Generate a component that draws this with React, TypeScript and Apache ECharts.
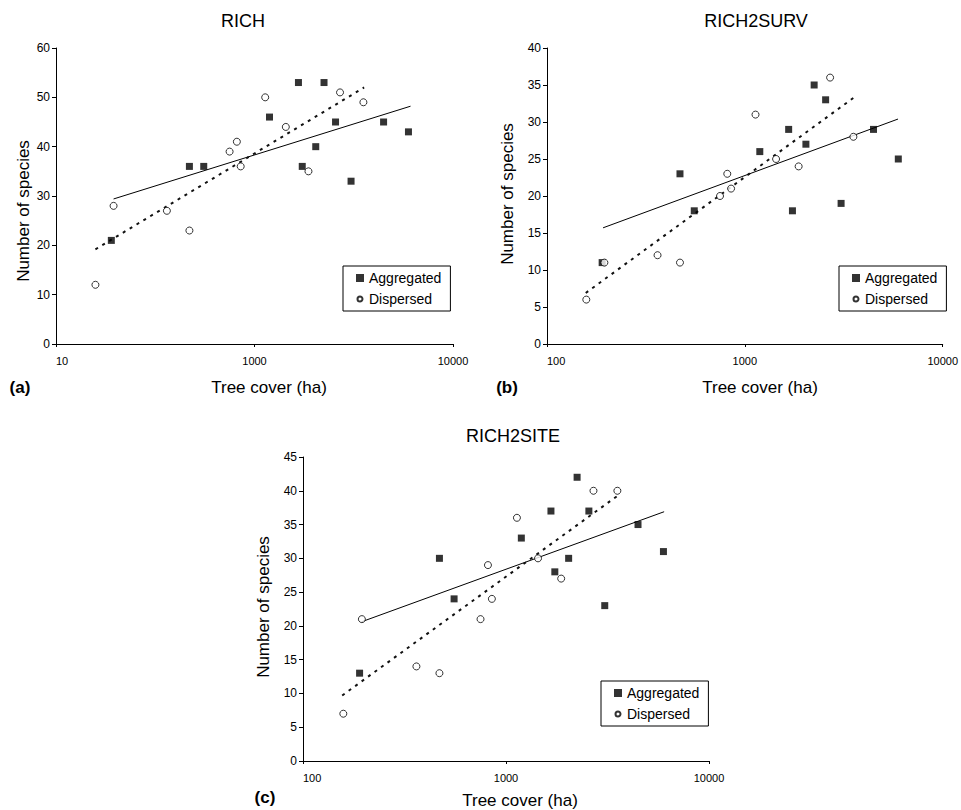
import React, { useEffect, useRef } from "react";
import * as echarts from "echarts";

const FONT = '"Liberation Sans", Arial, Helvetica, sans-serif';

// Tree cover (ha) of the sites, per landscape type
const aggregatedCover = [190, 470, 555, 1190, 1665, 1740, 2035, 2240, 2560, 3065, 4470, 5965];
const dispersedCover = [158, 195, 362, 470, 749, 815, 852, 1132, 1438, 1870, 2697, 3537];

// Number of species
const richAggregated = [21, 36, 36, 46, 53, 36, 40, 53, 45, 33, 45, 43];
const richDispersed = [12, 28, 27, 23, 39, 41, 36, 50, 44, 35, 51, 49];
const survAggregated = [11, 23, 18, 26, 29, 18, 27, 35, 33, 19, 29, 25];
const survDispersed = [6, 11, 12, 11, 20, 23, 21, 31, 25, 24, 36, 28];
const siteAggregated = [13, 30, 24, 33, 37, 28, 30, 42, 37, 23, 35, 31];
const siteDispersed = [7, 21, 14, 13, 21, 29, 24, 36, 30, 27, 40, 40];

// Trend line endpoints [tree cover, species]
const richTrendAggregated = [[195, 29.4], [6110, 48.2]];
const richTrendDispersed = [[158, 19.2], [3566, 52.0]];
const survTrendAggregated = [[192, 15.7], [5945, 30.4]];
const survTrendDispersed = [[157, 6.9], [3556, 33.3]];
const siteTrendAggregated = [[194, 20.6], [6010, 36.9]];
const siteTrendDispersed = [[156, 9.7], [3597, 39.4]];

// Axis settings
const panelTitles = ["RICH", "RICH2SURV", "RICH2SITE"];
const panelLetters = ["(a)", "(b)", "(c)"];
const yMax = [60, 40, 45];
const yInterval = [10, 5, 5];
const xMin = 100;
const xMax = 10000;
const legendNames = ["Aggregated", "Dispersed"];

const panels = [
  { agg: richAggregated, disp: richDispersed, tAgg: richTrendAggregated, tDisp: richTrendDispersed },
  { agg: survAggregated, disp: survDispersed, tAgg: survTrendAggregated, tDisp: survTrendDispersed },
  { agg: siteAggregated, disp: siteDispersed, tAgg: siteTrendAggregated, tDisp: siteTrendDispersed },
];

// layout (px)
const grids = [
  { left: 56, top: 48, width: 397, height: 296 },
  { left: 547, top: 48, width: 399, height: 296 },
  { left: 303, top: 457, width: 406, height: 304 },
];
const legendPos = [
  { left: 343, top: 266 },
  { left: 839, top: 266 },
  { left: 601, top: 681 },
];
const titlePos = [
  [243, 21],
  [756, 21],
  [513, 436],
];
const letterPos = [
  [20, 387],
  [507, 387],
  [265, 797],
];
const xNamePos = [
  [269, 387],
  [760, 387],
  [520, 800],
];
const yNamePos = [
  [23, 211],
  [507, 194],
  [263, 607],
];

function buildOption() {
  const series: any[] = [];
  panels.forEach((p, i) => {
    series.push({
      type: "line",
      name: "trendA" + i,
      xAxisIndex: i,
      yAxisIndex: i,
      data: p.tAgg,
      symbol: "none",
      silent: true,
      lineStyle: { color: "#000", width: 1 },
      z: 1,
    });
    series.push({
      type: "line",
      name: "trendD" + i,
      xAxisIndex: i,
      yAxisIndex: i,
      data: p.tDisp,
      symbol: "none",
      silent: true,
      lineStyle: { color: "#111", width: 2, type: [3, 5] },
      z: 1,
    });
    series.push({
      type: "scatter",
      name: "Aggregated",
      xAxisIndex: i,
      yAxisIndex: i,
      data: aggregatedCover.map((x, j) => [x, p.agg[j]]),
      symbol: "rect",
      symbolSize: 7,
      itemStyle: { color: "#000" },
      z: 3,
    });
    series.push({
      type: "scatter",
      name: "Dispersed",
      xAxisIndex: i,
      yAxisIndex: i,
      data: dispersedCover.map((x, j) => [x, p.disp[j]]),
      symbol: "circle",
      symbolSize: 7,
      itemStyle: { color: "#fff", borderColor: "#000", borderWidth: 1 },
      z: 3,
    });
  });

  const graphic: any[] = [];
  for (let i = 0; i < 3; i++) {
    graphic.push({
      type: "text",
      x: titlePos[i][0],
      y: titlePos[i][1],
      style: { text: panelTitles[i], font: `18px ${FONT}`, fill: "#000", textAlign: "center", textVerticalAlign: "middle" },
    });
    graphic.push({
      type: "text",
      x: letterPos[i][0],
      y: letterPos[i][1],
      style: { text: panelLetters[i], font: `bold 17px ${FONT}`, fill: "#000", textAlign: "center", textVerticalAlign: "middle" },
    });
    graphic.push({
      type: "text",
      x: xNamePos[i][0],
      y: xNamePos[i][1],
      style: { text: "Tree cover (ha)", font: `17px ${FONT}`, fill: "#000", textAlign: "center", textVerticalAlign: "middle" },
    });
    graphic.push({
      type: "text",
      x: yNamePos[i][0],
      y: yNamePos[i][1],
      rotation: Math.PI / 2,
      style: { text: "Number of species", font: `17px ${FONT}`, fill: "#000", textAlign: "center", textVerticalAlign: "middle" },
    });
  }

  return {
    animation: false,
    backgroundColor: "#fff",
    grid: grids.map((g) => ({ ...g, containLabel: false })),
    xAxis: grids.map((_, i) => ({
      type: "log",
      gridIndex: i,
      logBase: 10,
      min: xMin,
      max: xMax,
      splitNumber: 2,
      axisLine: { show: true, onZero: false, lineStyle: { color: "#000", width: 1 } },
      axisTick: { show: true, length: 3, lineStyle: { color: "#000" } },
      minorTick: { show: false },
      splitLine: { show: false },
      axisLabel: {
        fontSize: 11,
        color: "#000",
        fontFamily: FONT,
        margin: 11,
        alignMinLabel: "left",
        formatter: (v: number) => (i === 0 && v === 100 ? "10" : String(v)),
      },
    })),
    yAxis: grids.map((_, i) => ({
      type: "value",
      gridIndex: i,
      min: 0,
      max: yMax[i],
      interval: yInterval[i],
      axisLine: { show: true, lineStyle: { color: "#000", width: 1 } },
      axisTick: { show: true, length: 4, lineStyle: { color: "#000" } },
      splitLine: { show: false },
      axisLabel: { fontSize: 12, color: "#000", fontFamily: FONT, margin: 6 },
    })),
    legend: legendPos.map((lp) => ({
      left: lp.left,
      top: lp.top,
      orient: "vertical",
      data: [
        { name: legendNames[0], icon: "rect" },
        { name: legendNames[1], icon: "path://M0,0 L0,0 M8,8 L8,8 M1.5,4 A2.5,2.5 0 1 1 6.5,4 A2.5,2.5 0 1 1 1.5,4 Z" },
      ],
      itemWidth: 8,
      itemHeight: 8,
      itemGap: 7,
      padding: [5, 9, 5, 12],
      borderColor: "#000",
      borderWidth: 1,
      backgroundColor: "#fff",
      selectedMode: false,
      textStyle: { fontSize: 14, color: "#000", fontFamily: FONT, lineHeight: 14 },
    })),
    series,
    graphic,
  };
}

export default function App() {
  const ref = useRef<HTMLDivElement>(null);
  useEffect(() => {
    if (!ref.current) return;
    const chart = echarts.init(ref.current, undefined, { renderer: "svg" });
    chart.setOption(buildOption() as any);
    return () => chart.dispose();
  }, []);
  return (
    <div
      ref={ref}
      style={{ position: "absolute", left: 0, top: 0, width: 961, height: 810, background: "#fff" }}
    />
  );
}
